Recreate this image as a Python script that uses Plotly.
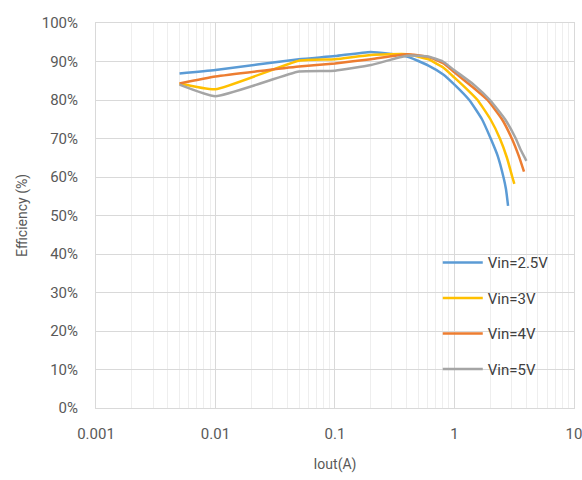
import plotly.graph_objects as go

# Data (Iout in A, efficiency in %)
x_25 = [0.005, 0.01, 0.05, 0.1, 0.2, 0.4, 0.6, 0.8, 1, 1.33, 1.7, 2.01, 2.3, 2.57, 2.7, 2.81]
y_25 = [86.9, 87.8, 90.6, 91.4, 92.5, 91.3, 89.0, 86.7, 84.0, 80.0, 75.0, 70.0, 65.5, 60.0, 56.8, 52.5]

x_3 = [0.005, 0.01, 0.05, 0.1, 0.2, 0.4, 0.6, 0.8, 1, 1.3, 1.56, 2.0, 2.4, 2.75, 3.05, 3.17]
y_3 = [84.3, 82.8, 90.2, 90.6, 91.7, 91.9, 90.6, 88.5, 85.8, 82.5, 80.0, 75.0, 70.0, 65.0, 60.0, 58.2]

x_4 = [0.005, 0.01, 0.05, 0.1, 0.2, 0.4, 0.6, 0.8, 1, 1.4, 1.89, 2.5, 3.02, 3.47, 3.82]
y_4 = [84.3, 86.1, 88.7, 89.5, 90.6, 91.9, 91.2, 89.6, 87.2, 83.5, 80.0, 75.0, 70.0, 65.3, 61.4]

x_5 = [0.005, 0.01, 0.05, 0.1, 0.2, 0.4, 0.6, 0.8, 1, 1.45, 1.98, 2.65, 3.26, 3.59, 4.0]
y_5 = [84.0, 81.0, 87.4, 87.6, 89.1, 91.5, 91.3, 90.0, 87.7, 84.0, 80.0, 75.0, 70.0, 67.0, 64.2]

series_names = ["Vin=2.5V", "Vin=3V", "Vin=4V", "Vin=5V"]
series_x = [x_25, x_3, x_4, x_5]
series_y = [y_25, y_3, y_4, y_5]
colors = ["#5B9BD5", "#FFC000", "#ED7D31", "#A5A5A5"]

x_tickvals = [0.001, 0.01, 0.1, 1, 10]
x_ticktext = ["0.001", "0.01", "0.1", "1", "10"]

FONT = "Roboto, Liberation Sans, sans-serif"
TXT = "#595959"

fig = go.Figure()
for i, (n, xs, ys, c) in enumerate(zip(series_names, series_x, series_y, colors)):
    fig.add_trace(go.Scatter(x=xs, y=ys, mode="lines", name=n, legendgroup=str(i),
                             line=dict(color=c, width=2.5, shape="spline", smoothing=0.45)))

fig.update_layout(
    width=582, height=480,
    margin=dict(l=96, r=8, t=23, b=72, autoexpand=False),
    paper_bgcolor="white", plot_bgcolor="white",
    font=dict(family=FONT, size=14, color=TXT),
    legend=dict(x=0.715, y=0.42, xanchor="left", yanchor="top",
                traceorder="grouped", tracegroupgap=13, itemwidth=40,
                bgcolor="rgba(0,0,0,0)", font=dict(size=15, color="#404040")),
    showlegend=True,
)
fig.update_xaxes(
    type="log", range=[-3, 1.0005], automargin=False,
    tickmode="array", tickvals=x_tickvals, ticktext=x_ticktext,
    showgrid=True, gridcolor="#d9d9d9", gridwidth=1,
    minor=dict(dtick="D1", showgrid=True, gridcolor="#eeeeee", gridwidth=1, ticks=""),
    showline=True, linecolor="#d9d9d9", mirror=True,
    ticks="", zeroline=False, ticklabelstandoff=12, ticklabeloverflow="allow",
    tickfont=dict(size=15, color=TXT),
    title=dict(text="Iout(A)", font=dict(size=14, color=TXT), standoff=17),
)
fig.update_yaxes(
    range=[0, 100], dtick=10, ticksuffix="%", automargin=False,
    showgrid=True, gridcolor="#d9d9d9", gridwidth=1,
    showline=True, linecolor="#d9d9d9", mirror=True,
    ticks="", zeroline=False, ticklabelstandoff=14,
    tickfont=dict(size=15, color=TXT),
    title=dict(text="Efficiency (%)", font=dict(size=14, color=TXT), standoff=10),
)

fig.write_html("out.html")
